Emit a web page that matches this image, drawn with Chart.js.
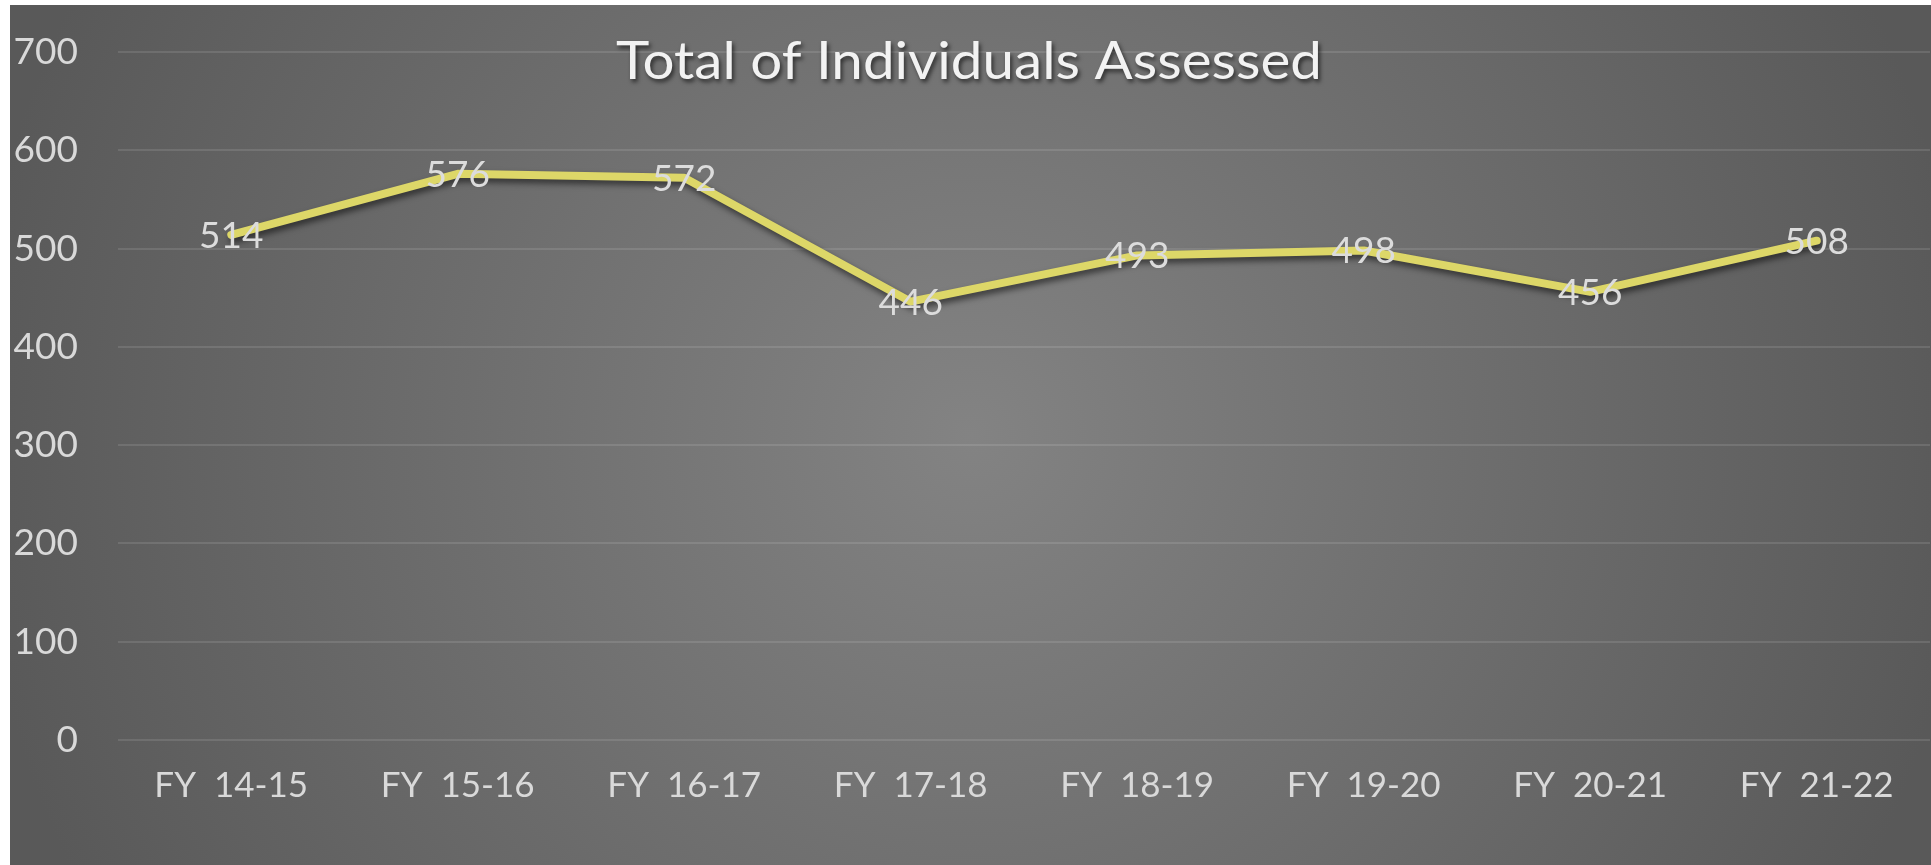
<!DOCTYPE html>
<html>
<head>
<meta charset="utf-8">
<script src="https://cdn.jsdelivr.net/npm/chart.js@4.4.1/dist/chart.umd.min.js"></script>
<style>
  html, body { margin: 0; padding: 0; background: #ffffff; width: 1931px; height: 865px; overflow: hidden; }
  #wrap { position: absolute; left: 10px; top: 5px; width: 1921px; height: 860px; }
  canvas { display: block; }
</style>
</head>
<body>
<div id="wrap"><canvas id="c" width="1921" height="860"></canvas></div>
<script>
const chartTitle = "Total of Individuals Assessed";
const categories = ["FY  14-15", "FY  15-16", "FY  16-17", "FY  17-18", "FY  18-19", "FY  19-20", "FY  20-21", "FY  21-22"];
const individualsAssessed = [514, 576, 572, 446, 493, 498, 456, 508];
const yTicks = [0, 100, 200, 300, 400, 500, 600, 700];

const FONT = "Lato, 'Open Sans', 'DejaVu Sans', sans-serif";
const LABEL_COLOR = "#d9d9d9";

const bgPlugin = {
  id: "bg",
  beforeDraw(chart) {
    const ctx = chart.ctx, w = chart.width, h = chart.height;
    ctx.save();
    const g = ctx.createRadialGradient(w / 2, h / 2, 0, w / 2, h / 2, 1000);
    g.addColorStop(0, "#838383");
    g.addColorStop(1, "#595959");
    ctx.fillStyle = g;
    ctx.fillRect(0, 0, w, h);
    ctx.restore();
  }
};

const shadowPlugin = {
  id: "lineShadow",
  beforeDatasetsDraw(chart) {
    const ctx = chart.ctx;
    ctx.save();
    ctx.shadowColor = "rgba(0,0,0,0.55)";
    ctx.shadowBlur = 6;
    ctx.shadowOffsetX = 2;
    ctx.shadowOffsetY = 4;
  },
  afterDatasetsDraw(chart) {
    chart.ctx.restore();
  }
};

const labelsPlugin = {
  id: "valueLabels",
  afterDatasetsDraw(chart) {
    const ctx = chart.ctx;
    const meta = chart.getDatasetMeta(0);
    const data = chart.data.datasets[0].data;
    ctx.save();
    ctx.font = "37px " + FONT;
    ctx.fillStyle = "#dcdcdc";
    ctx.textAlign = "center";
    ctx.textBaseline = "middle";
    meta.data.forEach((pt, i) => {
      ctx.fillText(String(data[i]), pt.x, pt.y + 1);
    });
    ctx.restore();
  }
};

const titlePlugin = {
  id: "overlayTitle",
  afterDraw(chart) {
    const ctx = chart.ctx;
    ctx.save();
    ctx.font = "52px " + FONT;
    const w = ctx.measureText(chartTitle).width;
    const target = 706;
    const sx = target / w;
    ctx.translate(959, 74);
    ctx.scale(sx, 1);
    ctx.textAlign = "center";
    ctx.textBaseline = "alphabetic";
    ctx.shadowColor = "rgba(0,0,0,0.6)";
    ctx.shadowBlur = 4;
    ctx.shadowOffsetX = 2;
    ctx.shadowOffsetY = 3;
    ctx.fillStyle = "#f2f2f2";
    ctx.fillText(chartTitle, 0, 0);
    ctx.restore();
  }
};

new Chart(document.getElementById("c"), {
  type: "line",
  data: {
    labels: categories,
    datasets: [{
      label: chartTitle,
      data: individualsAssessed,
      borderColor: "#ddd768",
      borderWidth: 8,
      borderCapStyle: "round",
      borderJoinStyle: "round",
      pointRadius: 0,
      pointHoverRadius: 0,
      tension: 0,
      fill: false
    }]
  },
  options: {
    responsive: false,
    devicePixelRatio: 1,
    animation: false,
    events: [],
    layout: { padding: { top: 47, right: 1, bottom: 0, left: 0 } },
    plugins: {
      legend: { display: false },
      title: { display: false },
      tooltip: { enabled: false }
    },
    scales: {
      x: {
        type: "category",
        offset: true,
        grid: { display: false, drawTicks: false },
        border: { display: false },
        ticks: {
          color: LABEL_COLOR,
          font: { family: FONT, size: 35 },
          padding: 25,
          maxRotation: 0,
          autoSkip: false
        },
        afterFit(scale) { scale.height = 125; scale.paddingLeft = 0; scale.paddingRight = 0; }
      },
      y: {
        min: 0,
        max: 700,
        afterBuildTicks(scale) { scale.ticks = yTicks.map(v => ({ value: v })); },
        grid: { color: "rgba(255,255,255,0.11)", lineWidth: 2, drawTicks: false },
        border: { display: false },
        ticks: {
          color: LABEL_COLOR,
          font: { family: FONT, size: 37 },
          padding: 40
        },
        afterFit(scale) { scale.width = 108; scale.paddingTop = 0; scale.paddingBottom = 0; }
      }
    }
  },
  plugins: [bgPlugin, shadowPlugin, labelsPlugin, titlePlugin]
});
</script>
</body>
</html>
